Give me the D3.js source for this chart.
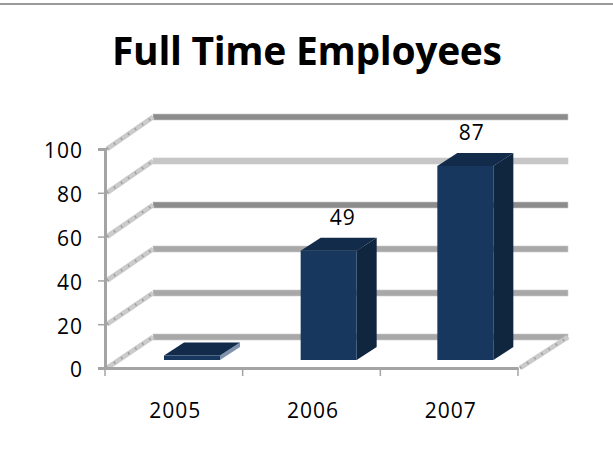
<!DOCTYPE html>
<html>
<head>
<meta charset="utf-8">
<script src="https://cdn.jsdelivr.net/npm/d3@7"></script>
<style>
  html, body { margin: 0; padding: 0; background: #fff; }
  text { font-family: "Open Sans", Lato, sans-serif; fill: #000; }
  .axis text { font-size: 21px; letter-spacing: 1px; }
  .axis path, .axis line { stroke: #a4a4a4; }
</style>
</head>
<body>
<svg id="chart" width="613" height="451"></svg>
<script>
var title = 'Full Time Employees'
var categories = ['2005', '2006', '2007']
var employees = [2, 49, 87]
var yTicks = [0, 20, 40, 60, 80, 100]
var labelled = [false, true, true]
var gridColors = ['#a8a8a8', '#a8a8a8', '#a8a8a8', '#8c8c8c', '#c6c6c6', '#8c8c8c']

var svg = d3.select('#chart')

// oblique projection: front plane and back wall of the 3d box
var x = d3.scaleBand().domain(categories).range([105, 518])
var xBar = d3.scaleBand().domain(categories).range([105, 515])
var y = d3.scaleLinear().domain([0, 100]).range([368, 149])
var yBack = d3.scaleLinear().domain([0, 100]).range([337, 117])
var yBar = d3.scaleLinear().domain([0, 100]).range([360, 137])
var depthX = 48
var barDepth = {x: 20, y: -13}
var barW = 56
var barShift = 59
var labelShift = [0, 14, 6.5]

// page rule at the top
svg.append('rect').attr('x', 0).attr('y', 3).attr('width', 613).attr('height', 2).attr('fill', '#9a9a9a')

svg.append('text')
    .attr('x', 307)
    .attr('y', 65)
    .attr('text-anchor', 'middle')
    .style('font-size', '39px')
    .style('font-weight', 700)
    .attr('textLength', 390)
    .attr('lengthAdjust', 'spacing')
    .text(title)

/*
    --------------------------------------
    Back wall and side wall
*/
var grid = svg.append('g')
yTicks.forEach(function (t, i) {
  grid.append('rect')
      .attr('x', x.range()[0] + depthX)
      .attr('y', yBack(t) - 3)
      .attr('width', x.range()[1] - x.range()[0] + 2)
      .attr('height', 6)
      .attr('fill', gridColors[i])
      .attr('stroke', '#c8c8c8')
      .attr('stroke-width', 0.6)
  grid.append('line')
      .attr('x1', x.range()[0] + 2).attr('y1', y(t))
      .attr('x2', x.range()[0] + depthX).attr('y2', yBack(t))
      .attr('stroke', '#cbcbcb').attr('stroke-width', 5)
  grid.append('line')
      .attr('x1', x.range()[0] + 2).attr('y1', y(t))
      .attr('x2', x.range()[0] + depthX).attr('y2', yBack(t))
      .attr('stroke', '#9e9e9e').attr('stroke-width', 2.5).attr('stroke-dasharray', '1.5 7')
})

// floor edge on the right
svg.append('line')
    .attr('x1', x.range()[1] + 2).attr('y1', y(0))
    .attr('x2', x.range()[1] + depthX + 2).attr('y2', yBack(0))
    .attr('stroke', '#cbcbcb').attr('stroke-width', 5)
svg.append('line')
    .attr('x1', x.range()[1] + 2).attr('y1', y(0))
    .attr('x2', x.range()[1] + depthX + 2).attr('y2', yBack(0))
    .attr('stroke', '#9e9e9e').attr('stroke-width', 2.5).attr('stroke-dasharray', '1.5 7')

/*
    --------------------------------------
    Bars
*/
var bars = svg.selectAll('g.bar')
    .data(employees)
    .enter()
    .append('g')
    .classed('bar', true)
    .attr('transform', (d, i) => `translate(${xBar(categories[i]) + barShift}, 0)`)

// side face
bars.append('path')
    .attr('d', d => {
      var top = yBar(d)
      var bot = yBar(0)
      return `M${barW},${top}L${barW + barDepth.x},${top + barDepth.y}L${barW + barDepth.x},${bot + barDepth.y}L${barW},${bot}Z`
    })
    .attr('fill', (d, i) => i === 0 ? '#7f93ad' : '#10263f')

// top face
bars.append('path')
    .attr('d', d => {
      var top = yBar(d)
      return `M0,${top}L${barDepth.x},${top + barDepth.y}L${barW + barDepth.x},${top + barDepth.y}L${barW},${top}Z`
    })
    .attr('fill', '#122b4a')

// front face
bars.append('rect')
    .attr('x', 0)
    .attr('y', d => yBar(d))
    .attr('width', barW)
    .attr('height', d => yBar(0) - yBar(d))
    .attr('fill', '#17375e')

// 2005 has no label in the picture
bars.filter((d, i) => labelled[i])
    .append('text')
    .classed('value', true)
    .attr('x', (d, i) => barW / 2 + labelShift[i + 1])
    .attr('y', d => yBar(d) - 26)
    .attr('text-anchor', 'middle')
    .style('font-size', '21px')
    .style('letter-spacing', '1px')
    .text(d => d)

/*
    --------------------------------------
    Axes
*/
var yAxis = d3.axisLeft(y).tickValues(yTicks).tickSize(7).tickPadding(15)
var yG = svg.append('g').attr('class', 'axis').attr('transform', 'translate(105, 0)').call(yAxis)
yG.select('.domain').attr('stroke-width', 3)
yG.selectAll('.tick line').attr('stroke-width', 1.5).attr('stroke', '#808080')
yG.selectAll('.tick text').attr('dy', '0.42em')

var xAxis = d3.axisBottom(x).tickSizeOuter(0).tickSize(0).tickPadding(35)
var xG = svg.append('g').attr('class', 'axis').attr('transform', `translate(0, ${y(0)})`).call(xAxis)
xG.select('.domain').attr('stroke-width', 3)
xG.selectAll('.tick text').attr('dx', 1.5)

// category ticks sit on the band edges
var edges = categories.map(c => x(c)).concat(x.range()[1])
xG.selectAll('line.edge')
    .data(edges)
    .enter()
    .append('line')
    .classed('edge', true)
    .attr('x1', d => d).attr('x2', d => d)
    .attr('y1', 0).attr('y2', 8)
    .attr('stroke', '#808080')
    .attr('stroke-width', 1.5)
</script>
</body>
</html>
